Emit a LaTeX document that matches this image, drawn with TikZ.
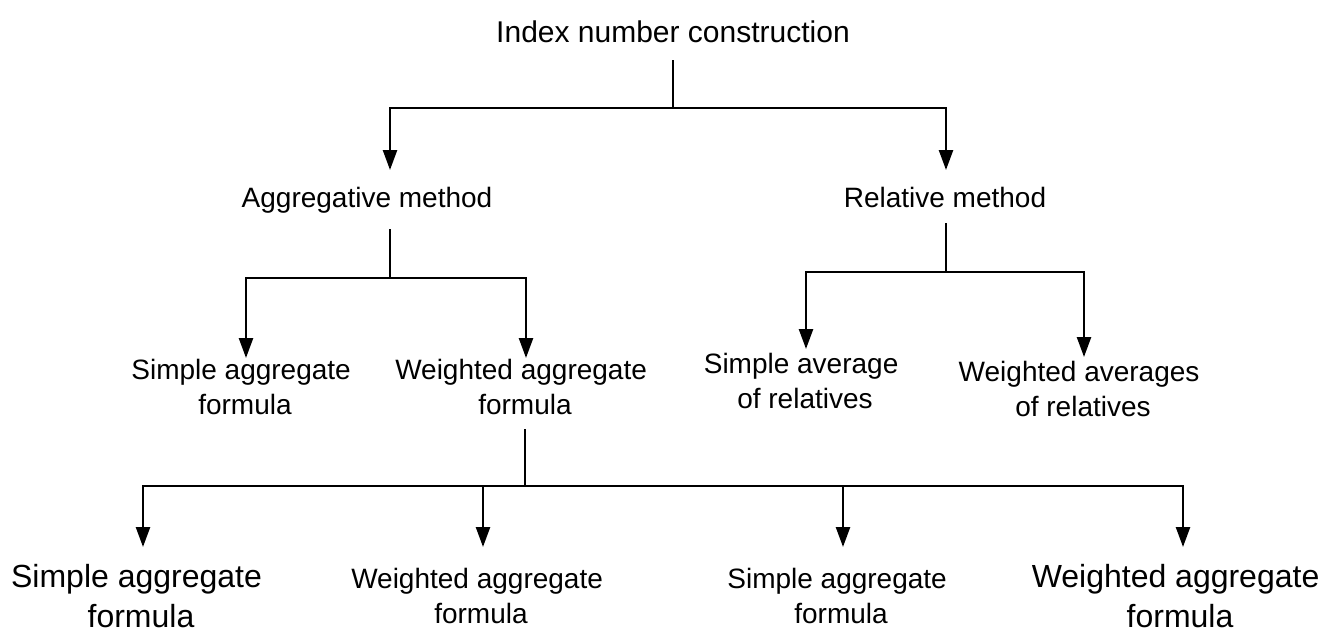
\documentclass[tikz,border=0pt]{standalone}
\usepackage{fontspec}
\setmainfont{Liberation Sans}
\usetikzlibrary{arrows.meta}

\begin{document}
\begin{tikzpicture}[x=1pt, y=-1pt, line width=2.5pt,
  link/.style={draw, line width=2.5pt},
  arrow/.style={link, -{Triangle[width=14pt,length=20pt]}},
  label/.style={inner sep=0pt, align=center, font=\fontsize{28}{35}\selectfont},
  biglabel/.style={label, font=\fontsize{32}{40}\selectfont}]

\useasboundingbox (0,0) rectangle (1330,640);

\node[label, anchor=base, font=\fontsize{30}{35}\selectfont] (index) at (673,42) {Index number construction};
\node[label, anchor=base] (aggr) at (367,207) {Aggregative method};
\node[label, anchor=base] (rel) at (945,207) {Relative method};
\node[label] (sagg) at (245,387) {Simple aggregate\mbox{ }\\formula};
\node[label] (wagg) at (525,387) {Weighted aggregate\mbox{ }\\formula};
\node[label] (savg) at (805,381) {Simple average\mbox{ }\\of relatives};
\node[label] (wavg) at (1083,389) {Weighted averages\mbox{ }\\of relatives};
\node[biglabel] (bsagg) at (141,596) {Simple aggregate\mbox{ }\\formula};
\node[label] (bwagg) at (481,596) {Weighted aggregate\mbox{ }\\formula};
\node[label] (bsaggr) at (841,596) {Simple aggregate\mbox{ }\\formula};
\node[biglabel] (bwaggr) at (1180,596) {Weighted aggregate\mbox{ }\\formula};

\coordinate (j0) at (673,108);
\coordinate (j1) at (390,278);
\coordinate (j2) at (946,272);
\coordinate (j3) at (525,486);

\coordinate (aggr-in) at (390,170);
\coordinate (rel-in) at (946,170);
\coordinate (sagg-in) at (246,358);
\coordinate (wagg-in) at (526,358);
\coordinate (savg-in) at (806,349);
\coordinate (wavg-in) at (1084,357);
\coordinate (bsagg-in) at (143,547);
\coordinate (bwagg-in) at (483,547);
\coordinate (bsaggr-in) at (843,547);
\coordinate (bwaggr-in) at (1183,547);

\draw[link] ([yshift=-18pt]index.base) -- (j0);
\draw[arrow] (j0) -| (aggr-in);
\draw[arrow] (j0) -| (rel-in);

\draw[link] ([xshift=23pt,yshift=-22pt]aggr.base) -- (j1);
\draw[arrow] (j1) -| (sagg-in);
\draw[arrow] (j1) -| (wagg-in);

\draw[link] ([xshift=1pt,yshift=-16pt]rel.base) -- (j2);
\draw[arrow] (j2) -| (savg-in);
\draw[arrow] (j2) -| (wavg-in);

\draw[link] ([yshift=-13pt]wagg.south) -- (j3);
\draw[arrow] (j3) -| (bsagg-in);
\draw[arrow] (j3) -| (bwagg-in);
\draw[arrow] (j3) -| (bsaggr-in);
\draw[arrow] (j3) -| (bwaggr-in);

\end{tikzpicture}
\end{document}
